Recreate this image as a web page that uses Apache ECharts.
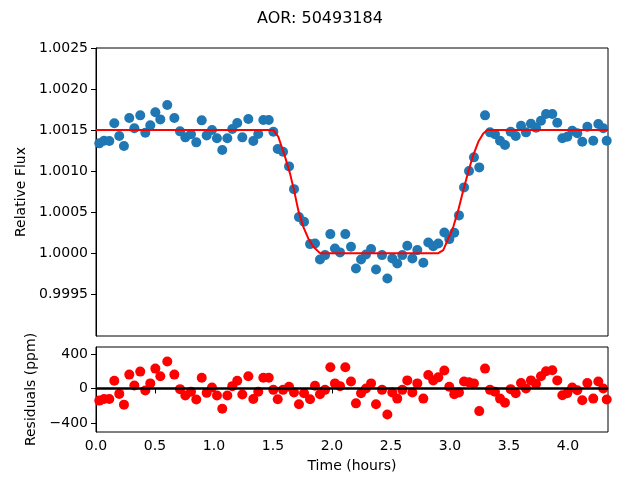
<!DOCTYPE html>
<html>
<head>
<meta charset="utf-8">
<script src="https://cdn.jsdelivr.net/npm/echarts@6/dist/echarts.min.js"></script>
<style>
html,body{margin:0;padding:0;background:#fff;}
#main{width:640px;height:480px;}
</style>
</head>
<body>
<div id="main"></div>
<script>
// time in hours
var timeHours = [0.028,0.068,0.113,0.155,0.197,0.237,0.282,0.325,0.375,0.418,0.460,0.503,0.545,0.604,0.664,0.712,0.757,0.805,0.850,0.896,
    0.938,0.983,1.025,1.070,1.113,1.155,1.197,1.240,1.291,1.333,1.375,1.418,1.464,1.503,1.540,1.585,1.636,1.678,1.720,1.763,
    1.814,1.856,1.898,1.941,1.986,2.025,2.068,2.113,2.161,2.203,2.246,2.288,2.331,2.373,2.424,2.469,2.511,2.553,2.596,2.638,
    2.681,2.723,2.774,2.816,2.858,2.901,2.952,2.994,3.036,3.076,3.119,3.161,3.203,3.248,3.297,3.339,3.381,3.424,3.466,3.514,
    3.557,3.602,3.644,3.686,3.729,3.771,3.814,3.867,3.909,3.952,3.994,4.036,4.079,4.121,4.164,4.214,4.257,4.299,4.328];
var relFlux = [1.001338,1.001370,1.001366,1.001582,1.001427,1.001305,1.001646,1.001521,1.001679,1.001467,
    1.001557,1.001716,1.001630,1.001805,1.001646,1.001484,1.001411,1.001448,1.001350,1.001618,
    1.001435,1.001500,1.001399,1.001256,1.001399,1.001512,1.001585,1.001411,1.001634,1.001366,
    1.001451,1.001622,1.001622,1.001479,1.001268,1.001235,1.001057,1.000780,1.000439,1.000382,
    1.000110,1.000118,0.999923,0.999976,1.000232,1.000057,1.000009,1.000232,1.000077,0.999813,
    0.999923,0.999984,1.000049,0.999801,0.999976,0.999691,0.999935,0.999874,0.999976,1.000089,
    0.999935,1.000037,0.999882,1.000130,1.000085,1.000118,1.000252,1.000171,1.000248,1.000460,
    1.000801,1.001000,1.001167,1.001045,1.001679,1.001472,1.001448,1.001370,1.001317,1.001479,
    1.001427,1.001552,1.001472,1.001577,1.001528,1.001613,1.001695,1.001695,1.001589,1.001399,
    1.001418,1.001491,1.001460,1.001357,1.001540,1.001370,1.001573,1.001521,1.001370];
var residualsPpm = [-141,-122,-122,90,-63,-188,161,35,196,-24,59,231,141,314,161,-8,-82,-39,-129,125,
    -51,12,-82,-235,-82,27,90,-71,141,-122,-39,125,125,-16,-125,-16,20,-47,-184,-55,
    -125,31,-67,-16,247,59,27,247,82,-173,-55,0,59,-184,-16,-302,-47,-118,-16,94,
    -47,59,-118,157,94,129,208,20,-67,-47,82,71,59,-263,231,-16,-39,-118,-165,-8,
    -55,63,0,94,51,141,200,212,94,-78,-55,12,-20,-137,63,-118,82,0,-129];
// transit model
var modelTime = [0,1.503,1.545,1.602,1.644,1.678,1.714,1.757,1.799,1.842,1.898,2.901,2.943,2.986,3.028,3.070,3.113,3.155,3.197,3.240,3.282,3.316,4.339];
var modelFlux = [1.0015,1.0015,1.001418,1.001174,1.000972,1.000768,1.000524,1.000321,1.000179,1.000077,1.0,1.0,1.000037,1.000179,1.000321,1.000524,1.000768,1.000991,1.001195,1.001357,1.001459,1.0015,1.0015];
var fluxTicks = [0.9995,1.0000,1.0005,1.0010,1.0015,1.0020,1.0025];
var residTicks = [-400,0,400];
var timeTicks = [0.0,0.5,1.0,1.5,2.0,2.5,3.0,3.5,4.0];

var myChart = echarts.init(document.getElementById('main'));

function pairs(xs, ys){
    var out = [];
    for(var i=0;i<xs.length;i++){
        out.push([xs[i], ys[i]]);
    }
    return out;
}

var font = 'DejaVu Sans';
var blackLine = {show: true, lineStyle: {color: '#000', width: 1}};
var tick = {show: true, inside: false, length: 5, lineStyle: {color: '#000', width: 1}};

option = {
    backgroundColor: '#fff',
    animation: false,
    title: {
        text: 'AOR: 50493184',
        left: 'center',
        top: 6,
        textStyle: {fontFamily: font, fontSize: 16, fontWeight: 'normal', color: '#000'}
    },
    grid: [
        {left: 96, right: 32, top: 48, height: 288, show: true, borderColor: '#000', borderWidth: 1},
        {left: 96, right: 32, top: 347, height: 85, show: true, borderColor: '#000', borderWidth: 1}
    ],
    xAxis: [
        {
            type: 'value', gridIndex: 0, min: 0, max: 4.339,
            axisLine: {show: false}, axisTick: {show: false}, axisLabel: {show: false},
            splitLine: {show: false}
        },
        {
            type: 'value', gridIndex: 1, min: 0, max: 4.339,
            name: 'Time (hours)', nameLocation: 'middle', nameGap: 27,
            nameTextStyle: {fontFamily: font, fontSize: 14, color: '#000'},
            axisLine: blackLine,
            axisTick: {show: true, inside: false, length: 5, lineStyle: {color: '#000'}, customValues: timeTicks},
            axisLabel: {
                fontFamily: font, fontSize: 14, color: '#000', margin: 7, customValues: timeTicks,
                formatter: function(v){ return v.toFixed(1); }
            },
            splitLine: {show: false}
        }
    ],
    yAxis: [
        {
            type: 'value', gridIndex: 0, min: 0.99899, max: 1.0025,
            name: 'Relative Flux', nameLocation: 'middle', nameGap: 64, nameRotate: 90,
            nameTextStyle: {fontFamily: font, fontSize: 14, color: '#000'},
            axisLine: blackLine,
            axisTick: {show: true, inside: false, length: 5, lineStyle: {color: '#000'}, customValues: fluxTicks},
            axisLabel: {
                fontFamily: font, fontSize: 14, color: '#000', margin: 8, customValues: fluxTicks,
                formatter: function(v){ return v.toFixed(4); }
            },
            splitLine: {show: false}
        },
        {
            type: 'value', gridIndex: 1, min: -506, max: 482,
            name: 'Residuals (ppm)', nameLocation: 'middle', nameGap: 52, nameRotate: 90,
            nameTextStyle: {fontFamily: font, fontSize: 14, color: '#000'},
            axisLine: blackLine,
            axisTick: {show: true, inside: false, length: 5, lineStyle: {color: '#000'}, customValues: residTicks},
            axisLabel: {
                fontFamily: font, fontSize: 14, color: '#000', margin: 8, customValues: residTicks,
                formatter: function(v){ return v < 0 ? '\u2212' + Math.abs(v) : String(v); }
            },
            splitLine: {show: false}
        }
    ],
    series: [
        {
            name: 'flux',
            type: 'scatter',
            xAxisIndex: 0, yAxisIndex: 0,
            symbolSize: 10,
            itemStyle: {color: '#1f77b4', opacity: 1},
            data: pairs(timeHours, relFlux),
            z: 2
        },
        {
            name: 'model',
            type: 'line',
            xAxisIndex: 0, yAxisIndex: 0,
            showSymbol: false,
            lineStyle: {color: '#ff0000', width: 2},
            data: pairs(modelTime, modelFlux),
            z: 3
        },
        {
            name: 'residuals',
            type: 'scatter',
            xAxisIndex: 1, yAxisIndex: 1,
            symbolSize: 10,
            itemStyle: {color: '#ff0000', opacity: 1},
            data: pairs(timeHours, residualsPpm),
            markLine: {
                silent: true,
                symbol: ['none', 'none'],
                label: {show: false},
                lineStyle: {color: '#000', width: 2.5, type: 'solid'},
                data: [{yAxis: 0}]
            }
        }
    ]
};
myChart.setOption(option, true);
</script>
</body>
</html>
